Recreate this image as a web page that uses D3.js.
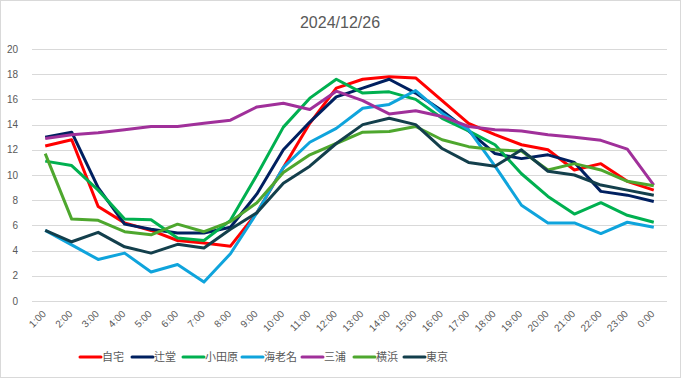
<!DOCTYPE html>
<html lang="ja">
<head>
<meta charset="UTF-8">
<title>2024/12/26</title>
<script src="https://cdn.jsdelivr.net/npm/d3@7"></script>
<style>
    body{ margin:0; background:#fff; }
    text{ font-family:"Liberation Sans", Arial, "Noto Sans CJK JP", sans-serif; fill:#595959; }
    .lg text{ font-family:"Noto Sans CJK JP", sans-serif; }
</style>
</head>
<body>
<svg id="chart" width="681" height="378"></svg>
<script>
    // hours on the x axis
    let hours = ["1:00","2:00","3:00","4:00","5:00","6:00","7:00","8:00","9:00","10:00","11:00","12:00",
        "13:00","14:00","15:00","16:00","17:00","18:00","19:00","20:00","21:00","22:00","23:00","0:00"]
    let y_ticks = [0,2,4,6,8,10,12,14,16,18,20]

    // series values
    let jitaku   = [12.3,12.8,7.5,6.2,5.6,4.8,4.6,4.35,7.0,10.6,14.1,16.9,17.6,17.8,17.7,15.9,14.1,13.2,12.4,12.0,10.4,10.9,9.5,8.8]
    let tsujido  = [13.0,13.4,9.0,6.1,5.7,5.4,5.4,5.85,8.5,12.0,14.2,16.2,16.9,17.6,16.5,15.1,13.5,11.7,11.3,11.6,11.0,8.7,8.4,7.9]
    let odawara  = [11.1,10.75,8.8,6.5,6.45,5.0,4.8,6.4,10.0,13.8,16.1,17.6,16.5,16.6,16.0,14.5,13.5,12.4,10.1,8.3,6.9,7.8,6.8,6.25]
    let ebina    = [5.6,4.45,3.3,3.8,2.3,2.9,1.5,3.75,7.0,10.6,12.6,13.7,15.3,15.6,16.7,14.9,13.6,10.7,7.6,6.2,6.2,5.35,6.25,5.85]
    let miura    = [12.9,13.2,13.35,13.6,13.85,13.85,14.1,14.35,15.4,15.7,15.2,16.65,15.9,14.85,15.1,14.65,13.85,13.6,13.5,13.2,13.0,12.75,12.05,9.2]
    let yokohama = [11.7,6.5,6.4,5.5,5.25,6.1,5.5,6.3,7.8,10.2,11.6,12.5,13.4,13.45,13.85,12.8,12.25,12.0,11.9,10.4,10.9,10.4,9.5,9.15]
    let tokyo    = [5.6,4.7,5.45,4.3,3.8,4.5,4.2,5.7,7.0,9.35,10.7,12.5,14.0,14.5,14.0,12.1,11.0,10.7,12.0,10.3,10.0,9.2,8.8,8.4]

    let names  = ["自宅","辻堂","小田原","海老名","三浦","横浜","東京"]
    let colors = ["#ff0000","#002060","#00b050","#0fa4dc","#a0309a","#4ea72e","#133f4c"]
    let series = [jitaku, tsujido, odawara, ebina, miura, yokohama, tokyo]

    let svg = d3.select("#chart")

    // outer frame
    svg.append("rect")
        .attr("x",0.5).attr("y",0.5)
        .attr("width",680).attr("height",377)
        .attr("fill","#fff")
        .attr("stroke","#d9d9d9")

    // title
    svg.append("text")
        .attr("x",340).attr("y",28)
        .attr("text-anchor","middle")
        .style("font-size","16px")
        .text("2024/12/26")

    let plot_left = 32, plot_right = 667, plot_top = 49, plot_bottom = 301

    let x_scale = d3.scaleBand()
        .domain(hours)
        .range([plot_left, plot_right])
    let x_mid = d => x_scale(d) + x_scale.bandwidth()/2

    let y_scale = d3.scaleLinear()
        .domain([0,20])
        .range([plot_bottom, plot_top])

    // gridlines
    svg.append("g")
        .selectAll("line")
        .data(y_ticks)
        .join("line")
        .attr("x1",plot_left).attr("x2",plot_right)
        .attr("y1",d => Math.round(y_scale(d)) + 0.5)
        .attr("y2",d => Math.round(y_scale(d)) + 0.5)
        .attr("stroke","#d9d9d9")

    // y labels
    svg.append("g")
        .selectAll("text")
        .data(y_ticks)
        .join("text")
        .attr("x",18)
        .attr("y",d => y_scale(d))
        .attr("dy","0.35em")
        .attr("text-anchor","end")
        .style("font-size","10px")
        .text(d => d)

    // x labels, rotated
    svg.append("g")
        .selectAll("text")
        .data(hours)
        .join("text")
        .attr("transform",d => "translate(" + (x_mid(d) - 1) + "," + 312 + ") rotate(-45)")
        .attr("dy","0.35em")
        .attr("text-anchor","end")
        .style("font-size","10px")
        .text(d => d)

    // lines
    let line = d3.line()
        .x((d,i) => x_mid(hours[i]))
        .y(d => y_scale(d))

    svg.append("g")
        .selectAll("path")
        .data(series)
        .join("path")
        .attr("d",d => line(d))
        .attr("fill","none")
        .attr("stroke",(d,i) => colors[i])
        .attr("stroke-width",3)
        .attr("stroke-linejoin","round")

    // legend
    let legend_x = [80,132,183,242,302,354,404]
    let lg = svg.append("g").attr("class","lg")
        .selectAll("g")
        .data(names)
        .join("g")
        .attr("transform",(d,i) => "translate(" + legend_x[i] + ",357)")
    lg.append("line")
        .attr("x1",0).attr("x2",21)
        .attr("stroke",(d,i) => colors[i])
        .attr("stroke-width",3)
        .attr("stroke-linecap","round")
    lg.append("text")
        .attr("x",22)
        .attr("dy","0.35em")
        .style("font-size","11px")
        .text(d => d)
</script>
</body>
</html>
